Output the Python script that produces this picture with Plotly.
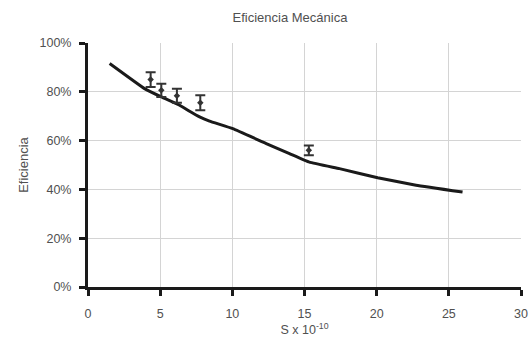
import plotly.graph_objects as go

# Model curve
curve_x = [1.5, 3.92, 5.08, 6.35, 7.04, 7.73, 8.42, 10.03, 12.35, 13.96, 15.34, 17.42, 20.07, 22.73, 25.95]
curve_y = [0.916, 0.813, 0.779, 0.745, 0.72, 0.697, 0.68, 0.649, 0.588, 0.547, 0.512, 0.485, 0.448, 0.417, 0.389]

# Experimental points with error bars
exp_x = [4.34, 5.08, 6.16, 7.78, 15.3]
exp_y = [0.85, 0.806, 0.784, 0.755, 0.56]
exp_err = [0.03, 0.027, 0.029, 0.031, 0.02]

x_ticks = [0, 5, 10, 15, 20, 25, 30]
y_ticks = [0, 0.2, 0.4, 0.6, 0.8, 1.0]
y_labels = ["0%", "20%", "40%", "60%", "80%", "100%"]

fig = go.Figure()
fig.add_trace(go.Scatter(x=curve_x, y=curve_y, mode="lines",
                         line=dict(color="#1a1a1a", width=3, shape="spline", smoothing=0.3),
                         showlegend=False, hoverinfo="skip"))
fig.add_trace(go.Scatter(x=exp_x, y=exp_y, mode="markers",
                         marker=dict(symbol="diamond", size=5, color="#333333"),
                         error_y=dict(type="data", array=exp_err, color="#333333",
                                      thickness=2, width=5),
                         showlegend=False))

font = "Liberation Sans, Arial, sans-serif"
fig.update_layout(
    width=531, height=346,
    margin=dict(l=88, r=10, t=43, b=59),
    paper_bgcolor="white", plot_bgcolor="white",
    font=dict(family=font, size=12.5, color="#505050"),
    title=dict(text="Eficiencia Mecánica", x=0.546, xanchor="center", y=0.951, yanchor="middle",
               font=dict(size=13, color="#505050")),
    xaxis=dict(range=[0, 30], tickvals=x_ticks, showgrid=True, gridcolor="#d4d4d4", gridwidth=1,
               showline=True, linecolor="#1a1a1a", linewidth=3, ticks="outside",
               ticklen=6, tickwidth=3, tickcolor="#1a1a1a", zeroline=False, automargin=False,
               ticklabelstandoff=7,
               title=dict(text="S x 10<sup>-10</sup>", standoff=1, font=dict(size=12.5)),
               tickfont=dict(size=12.5)),
    yaxis=dict(range=[0, 1.0], tickvals=y_ticks, ticktext=y_labels, showgrid=True,
               gridcolor="#d4d4d4", gridwidth=1,
               showline=True, linecolor="#1a1a1a", linewidth=3, ticks="outside",
               ticklen=6, tickwidth=3, tickcolor="#1a1a1a", zeroline=False, automargin=False,
               ticklabelstandoff=5,
               title=dict(text="Eficiencia", standoff=8, font=dict(size=13)),
               tickfont=dict(size=12.5)),
)
fig.write_html("out.html", config={"displayModeBar": False},
               post_script="document.body.style.margin='0px';document.body.style.overflow='hidden';")
